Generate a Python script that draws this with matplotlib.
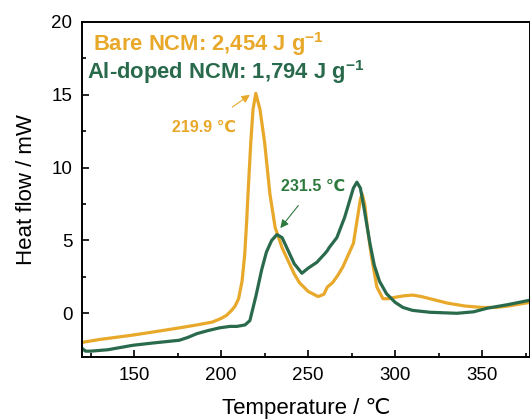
import matplotlib
matplotlib.use('Agg')
import matplotlib.pyplot as plt
from matplotlib.ticker import MultipleLocator

plt.rcParams['font.family'] = ['Liberation Sans', 'DejaVu Sans']
plt.rcParams['mathtext.fontset'] = 'custom'
plt.rcParams['mathtext.rm'] = 'Liberation Sans'
plt.rcParams['mathtext.bf'] = 'Liberation Sans:bold'

# Bare NCM DSC curve
bare_t = [120, 130, 149, 160, 176, 186, 195, 200, 203, 206, 208, 210, 212, 213.5,
          214.6, 215.6, 217, 218.3, 219.9, 222.3, 225, 228, 231, 235, 238.5, 242,
          245, 250, 255.7, 259, 261, 264, 267, 270, 273, 276, 278, 280, 281, 282.5,
          284, 286.5, 289.5, 293, 296, 300, 305, 310, 315, 320, 330, 340, 350, 358,
          365, 377.5]
bare_h = [-2.0, -1.8, -1.5, -1.3, -1.0, -0.8, -0.6, -0.35, -0.15, 0.2, 0.5, 1.0, 2.2, 4.0,
          6.2, 8.6, 11.7, 14.0, 15.1, 14.0, 11.7, 8.2, 5.9, 4.5, 3.6, 2.7,
          2.1, 1.5, 1.15, 1.3, 1.8, 2.1, 2.6, 3.2, 4.0, 4.8, 6.3, 7.8, 8.2, 7.5,
          5.9, 3.8, 1.8, 1.0, 1.0, 1.1, 1.2, 1.25, 1.15, 1.0, 0.7, 0.5, 0.4, 0.4,
          0.5, 0.75]

# Al-doped NCM DSC curve
al_t = [120, 122, 125, 135, 149, 160, 176, 181, 186, 192, 199, 205, 209, 213.7,
        216.5, 220, 223.3, 226, 229, 232, 235, 238.5, 242, 246.4, 250, 255, 259.6,
        261, 262, 266.5, 271, 274, 276, 278, 280, 282, 285.5, 288, 291, 295, 300,
        304.5, 310, 320, 335.5, 345, 353, 365, 377.5]
al_h = [-2.4, -2.6, -2.6, -2.5, -2.2, -2.05, -1.85, -1.65, -1.4, -1.2, -1.0, -0.9, -0.9, -0.8,
        -0.5, 1.2, 3.0, 4.2, 5.0, 5.4, 5.2, 4.3, 3.4, 2.75, 3.1, 3.5, 4.1,
        4.3, 4.5, 5.2, 6.6, 7.8, 8.6, 9.0, 8.6, 7.3, 4.8, 3.3, 2.2, 1.35, 0.75,
        0.4, 0.2, 0.07, 0.0, 0.1, 0.35, 0.6, 0.9]

orange = '#E8A82A'
green = '#2A6A4C'
green_txt = '#2E7A3E'

fig = plt.figure(figsize=(5.3, 4.19), dpi=100)
ax = fig.add_axes([0.1547, 0.148, 0.8453, 0.7995])

ax.plot(bare_t, bare_h, color=orange, lw=2.3, solid_joinstyle='round')
ax.plot(al_t, al_h, color=green, lw=2.3, solid_joinstyle='round')

ax.set_xlim(120, 377.5)
ax.set_ylim(-3, 20)
ax.xaxis.set_major_locator(MultipleLocator(50))
ax.xaxis.set_minor_locator(MultipleLocator(25))
ax.yaxis.set_major_locator(MultipleLocator(5))
ax.yaxis.set_minor_locator(MultipleLocator(2.5))
ax.tick_params(which='both', direction='in', labelsize=13.5, width=1.2)
ax.tick_params(which='major', length=5, pad=7)
ax.tick_params(which='minor', length=3)
for s in ax.spines.values():
    s.set_linewidth(1.4)

ax.set_xlabel('Temperature / ℃', fontsize=16, labelpad=10)
ax.set_ylabel('Heat flow / mW', fontsize=16, labelpad=10)

ax.text(0.024, 0.935, r'Bare NCM: 2,454 J g$^{\mathbf{-1}}$', transform=ax.transAxes,
        color=orange, fontsize=15.8, fontweight='bold', va='center')
ax.text(0.012, 0.852, r'Al-doped NCM: 1,794 J g$^{\mathbf{-1}}$', transform=ax.transAxes,
        color=green, fontsize=15.8, fontweight='bold', va='center')

ax.annotate('219.9 ℃', xy=(216.5, 15.0), xytext=(190, 12.8), color=orange,
            fontsize=11.5, fontweight='bold', ha='center', va='center',
            arrowprops=dict(arrowstyle='-|>', color=orange, lw=0.8,
                            mutation_scale=12, shrinkA=12, shrinkB=0))
ax.annotate('231.5 ℃', xy=(234, 5.85), xytext=(253, 8.7), color=green_txt,
            fontsize=11.5, fontweight='bold', ha='center', va='center',
            arrowprops=dict(arrowstyle='-|>', color=green_txt, lw=0.8,
                            mutation_scale=12, shrinkA=8, shrinkB=0))

fig.savefig('out.png', dpi=100)
